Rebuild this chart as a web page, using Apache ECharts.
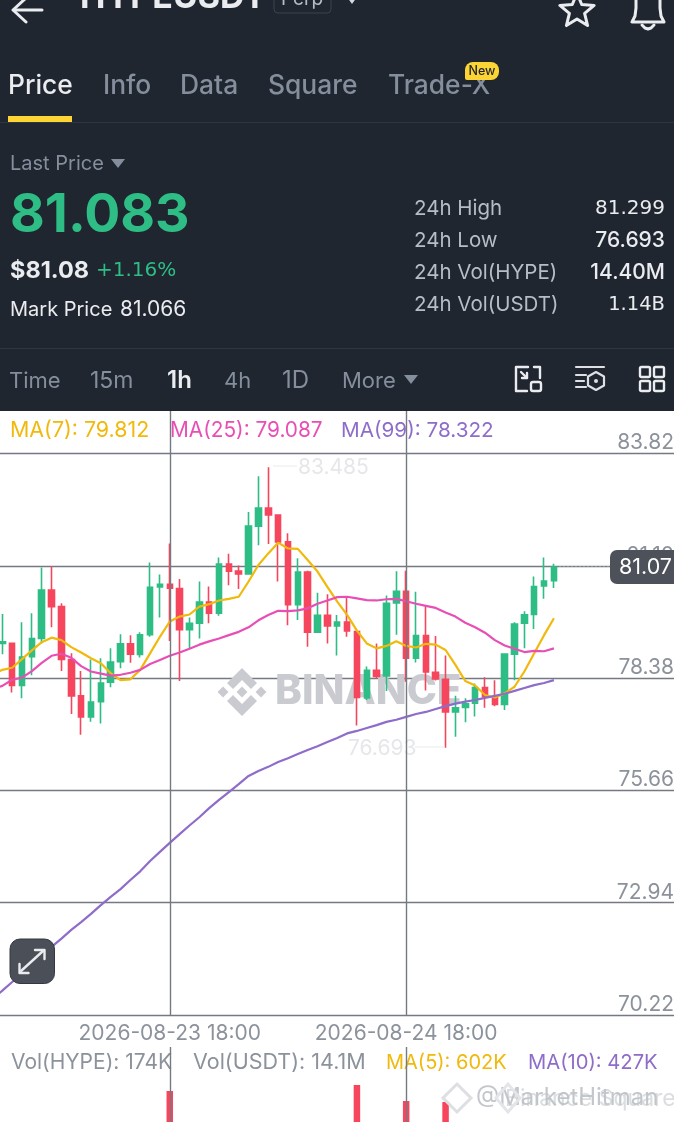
<!DOCTYPE html>
<html><head><meta charset="utf-8">
<style>html,body{margin:0;padding:0;background:#fff;overflow:hidden}#c{width:674px;height:1122px}</style>
<script src="https://cdn.jsdelivr.net/npm/echarts@6/dist/echarts.min.js"></script>
</head><body><div id="c"></div>
<script>
// [open, close, low, high]
const candles = [
[79.22,79.26,78.96,79.93],[79.22,78.20,78.03,79.22],[78.20,78.89,77.89,79.73],[78.90,79.34,78.45,79.95],
[79.34,80.51,79.22,81.06],[80.51,80.11,79.61,81.09],[80.11,78.83,78.55,80.19],[78.83,77.95,77.51,78.98],
[77.95,77.44,77.01,78.55],[77.44,77.80,77.32,78.83],[77.81,78.26,77.28,78.86],[78.28,78.77,78.16,79.10],
[78.78,79.21,78.62,79.44],[79.21,78.96,78.75,79.42],[78.95,79.43,78.88,79.49],[79.43,80.58,79.38,81.18],
[80.59,80.65,79.85,80.89],[80.65,80.56,79.28,81.64],[80.55,79.55,78.31,80.78],[79.55,79.71,79.10,79.85],
[79.71,80.22,79.34,80.72],[80.22,79.95,79.71,80.60],[79.95,81.14,79.89,81.30],[81.14,80.97,80.63,81.39],
[80.97,80.90,80.54,81.11],[80.90,82.06,80.90,82.40],[82.06,82.50,81.60,83.27],[82.50,82.33,81.63,83.485],
[82.33,81.68,80.72,82.35],[81.68,80.16,79.66,81.89],[80.16,80.95,79.79,81.28],[80.95,79.49,79.14,80.98],
[79.49,79.90,79.49,80.45],[79.90,79.64,79.22,80.41],[79.64,79.74,78.93,79.91],[79.74,79.52,79.38,80.35],
[79.51,77.91,77.23,79.51],[77.90,78.57,77.85,78.66],[78.57,78.42,78.37,79.22],[78.43,80.19,78.07,80.38],
[80.20,80.48,79.43,80.97],[80.48,78.86,78.29,80.98],[78.86,79.41,78.76,80.47],[79.41,78.53,78.08,80.13],
[78.52,78.36,78.32,79.40],[78.35,77.56,76.693,78.93],[77.56,77.66,76.96,77.95],[77.67,77.76,77.31,77.89],
[77.77,78.15,77.45,78.25],[78.15,77.93,77.66,78.40],[77.91,77.74,77.70,78.33],[77.74,78.96,77.61,78.96],
[78.96,79.69,78.33,79.73],[79.71,79.91,79.10,80.00],[79.92,80.60,79.57,80.84],[80.61,80.73,80.30,81.30],
[80.74,81.07,80.56,81.15]];
const ma7 = [78.46,78.58,78.63,78.84,79.05,79.25,79.36,79.30,79.13,79.00,78.86,78.74,78.50,78.33,78.35,78.58,78.98,79.38,79.75,79.87,79.92,80.11,80.17,80.26,80.30,80.35,80.72,81.12,81.40,81.66,81.52,81.51,81.24,80.96,80.59,80.23,79.91,79.53,79.22,79.10,79.16,79.27,79.16,79.12,79.21,79.19,79.06,78.70,78.31,78.20,77.97,77.91,78.01,78.17,78.54,78.98,79.42,79.83];
const ma25 = [78.13,78.19,78.34,78.39,78.55,78.75,78.92,78.97,78.87,78.67,78.54,78.49,78.44,78.46,78.51,78.58,78.72,78.82,78.92,79.00,79.09,79.19,79.27,79.34,79.42,79.50,79.61,79.78,79.91,80.01,80.00,80.02,80.07,80.18,80.26,80.34,80.35,80.31,80.27,80.26,80.29,80.30,80.24,80.18,80.13,80.08,79.97,79.87,79.72,79.61,79.48,79.30,79.17,79.09,79.01,79.04,79.03,79.10];
const ma99 = [70.61,70.81,71.02,71.24,71.43,71.65,71.87,72.07,72.28,72.47,72.67,72.88,73.08,73.27,73.49,73.70,73.95,74.17,74.39,74.60,74.81,75.01,75.23,75.43,75.62,75.81,76.01,76.13,76.23,76.35,76.44,76.54,76.64,76.73,76.83,76.93,77.04,77.10,77.17,77.24,77.32,77.37,77.44,77.51,77.56,77.63,77.70,77.76,77.81,77.85,77.90,77.95,78.00,78.07,78.14,78.21,78.26,78.33];
const yTicks = [70.22,72.94,75.66,78.38,81.10,83.82];
const timeTicks = ['2026-08-23 18:00','2026-08-24 18:00'];
// volume (thousands) of the only bars that reach into the visible part of the lower pane
const volumeK = {'2026-08-23 18:00':3120,'2026-08-24 13:00':3240,'2026-08-24 18:00':2920,'2026-08-24 22:00':2900};
const SLOTS = 70;
const categories = [];
for (let i=0;i<SLOTS;i++){const d=new Date(Date.UTC(2026,7,23,i));
  const p=n=>String(n).padStart(2,'0');
  categories.push(`${d.getUTCFullYear()}-${p(d.getUTCMonth()+1)}-${p(d.getUTCDate())} ${p(d.getUTCHours())}:00`);}
const UP='#2EBD85',DOWN='#F6465D',GRID='#74798280'.slice(0,7),TXT='#8C929B',BG='#1F2630';
const F='Inter, Roboto, sans-serif', DV='"DejaVu Sans", sans-serif';
const candleData=[null].concat(candles).map(c=>c||'-');
const volData=categories.map(c=>volumeK[c]!==undefined?volumeK[c]:null);

const T=(text,x,y,size,fill,weight,align,z,fam)=>({type:'text',z:z||5,style:{text,x,y:y+1,fontSize:size,fill,fontWeight:weight||400,fontFamily:fam||F,align:align||'left',verticalAlign:'middle'}});
const star=(cx,cy,R,r)=>{const p=[];for(let i=0;i<10;i++){const a=-Math.PI/2+i*Math.PI/5,q=i%2?r:R;p.push([cx+q*Math.cos(a),cy+q*Math.sin(a)]);}return p;};
const stroke=(c,w)=>({fill:'none',stroke:c,lineWidth:w,lineJoin:'round',lineCap:'round'});
const PL=(pts,st,z)=>({type:'polyline',z:z||5,shape:{points:pts},style:st});
const diamond=(cx,cy,h,col)=>({type:'polygon',z:1,shape:{points:[[cx,cy-h],[cx+h,cy],[cx,cy+h],[cx-h,cy]]},style:{fill:col}});
const WM='#C9CBD0', W='#EAECEF', G='#848E9C';
const graphics=[
 {type:'rect',z:1,shape:{x:0,y:0,width:674,height:411},style:{fill:BG}},
 {type:'rect',z:2,shape:{x:0,y:122,width:674,height:1},style:{fill:'#2E3541'}},
 {type:'rect',z:2,shape:{x:0,y:348,width:674,height:1},style:{fill:'#2E3541'}},
 {type:'rect',z:3,shape:{x:8,y:116,width:64,height:6},style:{fill:'#FCD535'}},
 PL([[42,10],[14,10]],stroke(W,3)),PL([[26,-2],[13,10],[26,22]],stroke(W,3)),
 T('HYPEUSDT',80,-3,34,W,700),
 {type:'rect',z:3,shape:{x:274,y:-12,width:57,height:25,r:4},style:{fill:'none',stroke:'#3A424E',lineWidth:1}},
 T('Perp',281,-2,19,'#B7BDC6',400),
 {type:'polygon',z:3,shape:{points:[[347,-3],[357,-3],[352,4]]},style:{fill:'#D5D8DC'}},
 {type:'polygon',z:3,shape:{points:star(577,11,18,8)},style:stroke(W,3)},
 PL([[636,-5],[636,8],[635,16],[632,22],[664,22],[661,16],[660,8],[660,-5]],stroke(W,3)),
 PL([[642,25],[645,28],[648,29],[651,28],[654,25]],stroke(W,3)),
 T('Price',8,85,26.4,W,500),T('Info',103,85,26.4,G,500),T('Data',180,85,26.4,G,500),
 T('Square',268,85,26.4,G,500),T('Trade-X',388,85,26.4,G,500),
 {type:'rect',z:6,shape:{x:465,y:62,width:34,height:18,r:[8,8,8,2]},style:{fill:'#FCD535'}},
 T('New',482,70.5,12.5,'#1E2329',500,'center',7),
 T('Last Price',10,163,20,G),
 {type:'polygon',z:3,shape:{points:[[111,159],[125,159],[118,168]]},style:{fill:G}},
 T('81.083',10,215,53.5,UP,700),
 T('$81.08',10,270,23.5,W,700),T('+1.16%',96,270,20,UP,400,'left',5,DV),
 T('Mark Price',10,309,20,W),T('81.066',120,309,21,W),
 T('24h High',414,208,20.5,'#B7BDC6'),T('24h Low',414,240,20.5,'#B7BDC6'),
 T('24h Vol(HYPE)',414,272,20.5,'#B7BDC6'),T('24h Vol(USDT)',414,304,20.5,'#B7BDC6'),
 T('81.299',665,208,20,W,400,'right',5,DV),T('76.693',665,240,21,W,500,'right'),
 T('14.40M',665,272,21,W,500,'right'),T('1.14B',665,304,19.5,W,400,'right',5,DV),
 T('Time',9,380,22,G),T('15m',90,380,23,G),T('1h',167,380,24,W,600),
 T('4h',224,380,22,G),T('1D',282,380,24,G),T('More',342,380,22,G),
 {type:'polygon',z:3,shape:{points:[[404,375],[418,375],[411,384]]},style:{fill:G}},
 PL([[528,367],[516,367],[516,391],[527,391]],stroke(W,2.4)),PL([[534,367],[540,367],[540,378]],stroke(W,2.4)),
 PL([[521,372],[527,378]],stroke(W,2.4)),PL([[527,373],[527,378],[522,378]],stroke(W,2.4)),
 {type:'rect',z:5,shape:{x:531,y:382,width:10,height:9,r:2},style:stroke(W,2.4)},
 PL([[576,367],[604,367]],stroke('#DDE0E4',2.2)),PL([[576,375],[586,375]],stroke('#DDE0E4',2.2)),
 PL([[576,381],[584,381]],stroke('#DDE0E4',2.2)),PL([[576,387],[586,387]],stroke('#DDE0E4',2.2)),
 {type:'polygon',z:5,shape:{points:[[596,372],[604,376.5],[604,385.5],[596,390],[588,385.5],[588,376.5]]},style:stroke('#DDE0E4',2.2)},
 {type:'circle',z:5,shape:{cx:596,cy:381,r:2},style:{fill:'#DDE0E4'}},
 {type:'rect',z:5,shape:{x:640,y:367,width:10,height:10,r:1.5},style:stroke(W,2.4)},
 {type:'rect',z:5,shape:{x:654,y:367,width:10,height:10,r:1.5},style:stroke(W,2.4)},
 {type:'rect',z:5,shape:{x:640,y:381,width:10,height:10,r:1.5},style:stroke(W,2.4)},
 {type:'rect',z:5,shape:{x:654,y:381,width:10,height:10,r:1.5},style:stroke(W,2.4)},
 T('MA(7): 79.812',10,430,21.4,'#F0B90B'),T('MA(25): 79.087',170,430,20.8,'#E84FB4'),T('MA(99): 78.322',341,430,20.7,'#8E6CC9'),
 diamond(242,692,5.5,WM),diamond(223,692,5.5,WM),diamond(261,692,5.5,WM),
 {type:'polygon',z:1,shape:{points:[[242,668],[257,683],[251,689],[242,680],[233,689],[227,683]]},style:{fill:WM}},
 {type:'polygon',z:1,shape:{points:[[242,716],[257,701],[251,695],[242,704],[233,695],[227,701]]},style:{fill:WM}},
 {type:'text',z:1,style:{text:'BINANCE',x:275,y:692,fontSize:40.5,fontWeight:800,fill:WM,fontFamily:F,verticalAlign:'middle'}},
 T('83.485',298,467,21,'#E5E7EA'),T('76.693',348,748,21,'#E5E7EA'),
 PL([[273,466],[297,466]],{fill:'none',stroke:'#E8EAEC',lineWidth:1}),PL([[415,747],[445,747]],{fill:'none',stroke:'#E8EAEC',lineWidth:1}),
 PL([[559,565.5],[610,565.5]],{fill:'none',stroke:'#E4E5E8',lineWidth:1.5,lineDash:[2,2]},6),
 {type:'rect',z:20,shape:{x:610,y:550,width:70,height:34,r:7},style:{fill:'#4D5159'}},
 T('81.07',619,567,21.5,'#FFFFFF',400,'left',21),
 {type:'rect',z:20,shape:{x:10,y:939,width:44.5,height:44.5,r:10},style:{fill:'#4B4F58',stroke:'#343840',lineWidth:1}},
 PL([[21,971],[43,951]],stroke(W,2.4),21),PL([[35,950],[44.5,950],[44.5,959]],stroke(W,2.4),21),PL([[19.5,964],[19.5,973],[28.5,973]],stroke(W,2.4),21),
 T('Vol(HYPE): 174K',11,1062,21,TXT),T('Vol(USDT): 14.1M',193,1062,21.5,TXT),
 T('MA(5): 602K',386,1062,20,'#F0B90B'),T('MA(10): 427K',528,1062,20.2,'#8E6CC9'),
 {type:'text',z:30,style:{text:'@MarketHitman',x:476,y:1098,fontSize:24,fill:'rgba(170,174,180,.7)',fontFamily:F,verticalAlign:'middle'}},
 {type:'text',z:30,style:{text:'Binance Square',x:505,y:1099,fontSize:23,fill:'rgba(190,194,200,.55)',fontFamily:F,verticalAlign:'middle'}},
 {type:'polygon',z:30,shape:{points:[[457,1084],[471,1098],[457,1112],[443,1098]]},style:{fill:'none',stroke:'#DDDFE2',lineWidth:3}},
 {type:'polygon',z:30,shape:{points:[[508,1084],[520,1098],[508,1112],[496,1098]]},style:{fill:'none',stroke:'#E4E5E8',lineWidth:3}},
];
const vline=(col)=>({silent:true,symbol:'none',animation:false,label:{show:false},lineStyle:{color:col,width:1.4,type:'solid'},data:timeTicks.map(t=>({xAxis:t}))});
const chart=echarts.init(document.getElementById('c'),null,{renderer:'canvas',width:674,height:1122});
const left=-12.45,w=9.85*SLOTS;
chart.setOption({
 animation:false,backgroundColor:'#fff',
 graphic:{elements:graphics},
 grid:[{left,top:411,width:w,height:604,outerBoundsMode:'none'},{left,top:1047,width:w,height:200,outerBoundsMode:'none'}],
 xAxis:[
  {type:'category',gridIndex:0,data:categories,boundaryGap:true,
   axisLine:{show:false},axisTick:{show:false},splitLine:{show:false},
   axisLabel:{interval:(i,v)=>timeTicks.includes(v),color:TXT,fontSize:21,fontFamily:F,margin:8,formatter:v=>v}},
  {type:'category',gridIndex:1,data:categories,position:'top',boundaryGap:true,
   axisLine:{show:true,lineStyle:{color:GRID,width:1.4}},axisTick:{show:false},axisLabel:{show:false},splitLine:{show:false}}],
 yAxis:[
  {type:'value',gridIndex:0,position:'right',offset:-3.05,min:70.22,max:84.849,scale:true,
   axisLine:{show:false},
   axisTick:{show:false,customValues:yTicks},
   splitLine:{show:true,lineStyle:{color:GRID,width:1.4}},
   axisLabel:{inside:true,customValues:yTicks,color:TXT,fontSize:21,fontFamily:F,margin:0,verticalAlign:'bottom',formatter:v=>v.toFixed(2)}},
  {type:'value',gridIndex:1,min:0,max:4000,show:false}],
 series:[
  {type:'candlestick',xAxisIndex:0,yAxisIndex:0,data:candleData,barWidth:6,z:3,
   itemStyle:{color:UP,color0:DOWN,borderColor:UP,borderColor0:DOWN,borderWidth:1.6},
   markLine:vline(GRID)},
  {type:'line',xAxisIndex:0,yAxisIndex:0,data:ma7,symbol:'none',z:4,lineStyle:{color:'#F0B90B',width:2.2}},
  {type:'line',xAxisIndex:0,yAxisIndex:0,data:ma25,symbol:'none',z:4,lineStyle:{color:'#E84FB4',width:2.2}},
  {type:'line',xAxisIndex:0,yAxisIndex:0,data:ma99,symbol:'none',z:4,lineStyle:{color:'#8E6CC9',width:2.2}},
  {type:'bar',xAxisIndex:1,yAxisIndex:1,data:volData,barWidth:6.5,itemStyle:{color:DOWN},markLine:vline(GRID)}
 ]
});
</script></body></html>
